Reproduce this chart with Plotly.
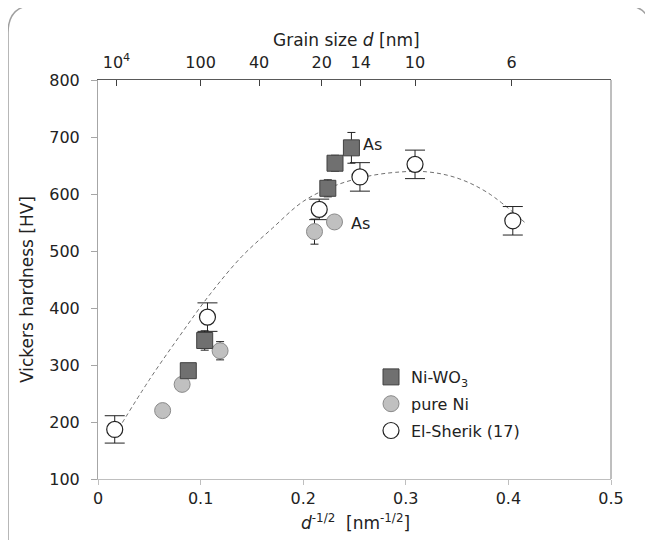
import plotly.graph_objects as go

# ---- data ----
niwo3_x = [0.088, 0.104, 0.224, 0.231, 0.247]
niwo3_y = [290, 343, 610, 654, 681]
niwo3_err = [12, 17, 15, 14, 27]

pureni_x = [0.063, 0.082, 0.119, 0.211, 0.2305]
pureni_y = [220, 266, 325, 534, 551]
pureni_err = [5, 5, 16, 22, 8]

sherik_x = [0.0163, 0.1067, 0.2156, 0.2553, 0.309, 0.4043]
sherik_y = [187, 384, 573, 630, 652, 553]
sherik_err = [24, 25, 18, 25, 25, 25]

# dashed trend curve
fit_x = [0.02, 0.05, 0.08, 0.11, 0.14, 0.17, 0.20, 0.23, 0.26, 0.29, 0.32, 0.35, 0.38, 0.416]
fit_y = [188, 274, 352, 426, 490, 540, 587, 614, 630, 638, 639, 628, 602, 550]

# top axis: grain size d [nm]
top_tick_pos = [0.018, 0.1, 0.157, 0.218, 0.256, 0.309, 0.403]
top_tick_text = ["10<sup>4</sup>", "100", "40", "20", "14", "10", "6"]

x_ticks = [0, 0.1, 0.2, 0.3, 0.4, 0.5]
y_ticks = [100, 200, 300, 400, 500, 600, 700, 800]

FONT = "DejaVu Sans"
OFF = 8                      # page body margin
W, H = 653 - OFF, 540 - OFF
# plot area in screen pixels: x 98..611, y 80..479
L = 98 - OFF
T = 80 - OFF
R = W - (611 - OFF)
B = H - (479 - OFF)
PW, PH = W - L - R, H - T - B


def sx(x):
    return (x - OFF - L) / PW


def sy(y):
    return (H - B - (y - OFF)) / PH


fig = go.Figure()

fig.add_trace(go.Scatter(
    x=fit_x, y=fit_y, mode="lines", line=dict(color="#707070", width=1, dash="4px,3px", shape="spline"),
    showlegend=False, hoverinfo="skip"))

fig.add_trace(go.Scatter(
    x=sherik_x, y=sherik_y, mode="markers", name="El-Sherik (17)", legendgroup="c", legendrank=3,
    marker=dict(symbol="circle", size=16, color="white", line=dict(color="#222222", width=1.2)),
    error_y=dict(type="data", array=sherik_err, color="#222222", thickness=1, width=10)))

fig.add_trace(go.Scatter(
    x=pureni_x, y=pureni_y, mode="markers", name="pure Ni", legendgroup="b", legendrank=2,
    marker=dict(symbol="circle", size=16, color="#c0c0c0", line=dict(color="#8a8a8a", width=1)),
    error_y=dict(type="data", array=pureni_err, color="#222222", thickness=1, width=4)))

fig.add_trace(go.Scatter(
    x=niwo3_x, y=niwo3_y, mode="markers", name="Ni-WO<sub>3</sub>", legendgroup="a", legendrank=1,
    marker=dict(symbol="square", size=16, color="#707070", line=dict(color="#404040", width=1)),
    error_y=dict(type="data", array=niwo3_err, color="#222222", thickness=1, width=4)))

# invisible trace for top axis
fig.add_trace(go.Scatter(x=[0, 0.5], y=[100, 100], xaxis="x2", mode="markers",
                         marker=dict(opacity=0), showlegend=False, hoverinfo="skip"))

fig.update_layout(
    width=W, height=H,
    margin=dict(l=L, r=R, t=T, b=B, autoexpand=False),
    paper_bgcolor="white", plot_bgcolor="white",
    font=dict(family=FONT, size=16, color="#222222"),
    xaxis=dict(range=[0, 0.5], tickvals=x_ticks, ticktext=[str(v) for v in x_ticks],
               showgrid=False, zeroline=False, showline=True, linecolor="#bfbfbf", linewidth=1,
               ticks="outside", ticklen=5, tickcolor="#bfbfbf", tickfont=dict(size=16)),
    xaxis2=dict(range=[0, 0.5], overlaying="x", side="top", tickvals=top_tick_pos, ticktext=top_tick_text,
                showgrid=False, zeroline=False, showline=True, linecolor="#595959", linewidth=1,
                ticks="inside", ticklen=6, tickcolor="#404040", tickfont=dict(size=16),
                ticklabelstandoff=5),
    yaxis=dict(range=[100, 800], tickvals=y_ticks, showgrid=False, zeroline=False, showline=True,
               linecolor="#a6a6a6", linewidth=1, ticks="outside", ticklen=6, tickcolor="#a6a6a6",
               tickfont=dict(size=16), ticklabelstandoff=8),
    legend=dict(x=sx(371), y=sy(360), xanchor="left", yanchor="top", bgcolor="rgba(0,0,0,0)",
                font=dict(size=16), tracegroupgap=3, itemwidth=30),
    showlegend=True,
)

# right border
fig.add_shape(type="line", xref="paper", yref="paper", x0=1, x1=1, y0=0, y1=1,
              line=dict(color="#7f7f7f", width=1))

# outer rounded frame
lx, rx, ty, by = sx(8), sx(651), sy(5), sy(560)
rdx, rdy = 28 / PW, 28 / PH
path = (f"M {lx},{by} L {lx},{ty - rdy} Q {lx},{ty} {lx + rdx},{ty} "
        f"L {rx - rdx},{ty} Q {rx},{ty} {rx},{ty - rdy} L {rx},{by}")
fig.add_shape(type="path", xref="paper", yref="paper", path=path,
              line=dict(color="#a0a0a0", width=1.5))

# axis titles
fig.add_annotation(x=sx(346), y=sy(40), xref="paper", yref="paper", showarrow=False,
                   xanchor="center", yanchor="middle",
                   text="Grain size <i>d</i> [nm]", font=dict(size=17))
fig.add_annotation(x=sx(355), y=sy(522), xref="paper", yref="paper", showarrow=False,
                   xanchor="center", yanchor="middle",
                   text="<i>d</i><sup>-1/2</sup>  [nm<sup>-1/2</sup>]", font=dict(size=17))
fig.add_annotation(x=sx(27), y=sy(290), xref="paper", yref="paper", showarrow=False, textangle=-90,
                   xanchor="center", yanchor="middle",
                   text="Vickers hardness [HV]", font=dict(size=17))

# "As" labels
fig.add_annotation(x=0.268, y=687, showarrow=False, text="As", font=dict(size=16))
fig.add_annotation(x=0.2558, y=549, showarrow=False, text="As", font=dict(size=16))

fig.write_html("out.html")
